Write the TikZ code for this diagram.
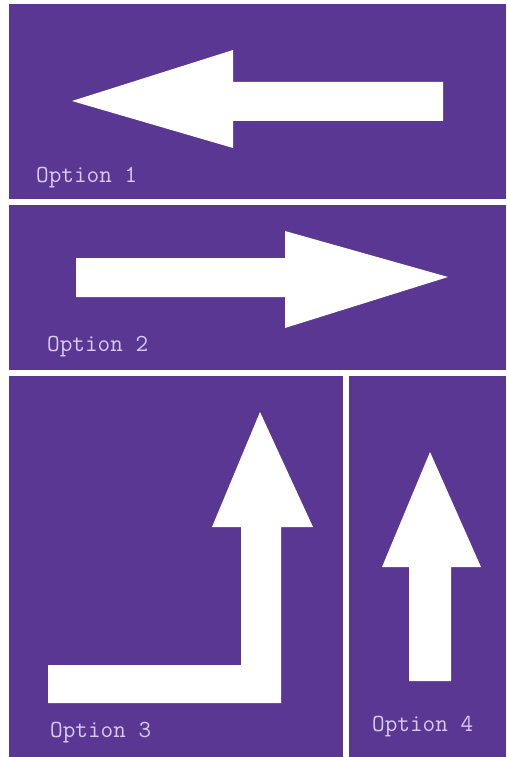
\documentclass[tikz,border=0pt]{standalone}
\usetikzlibrary{positioning}
\definecolor{panel}{HTML}{5A3792}
\definecolor{labeltext}{HTML}{D8CAF0}
\tikzset{
  optlabel/.style={font=\ttfamily\fontsize{24.5}{26}\selectfont,text=labeltext,anchor=base west,inner sep=0pt},
  arrowshape/.style={fill=white,draw=none}
}

\begin{document}
\begin{tikzpicture}[x=1pt,y=-1pt]
\useasboundingbox (0,0) rectangle (506,757);
\fill[white] (0,0) rectangle (506,757);
% panels
\fill[panel] (9,4) rectangle (506,199);
\fill[panel] (9,205) rectangle (506,370);
\fill[panel] (9,376) rectangle (343,757);
\fill[panel] (349,376) rectangle (506,757);

% option 1: left
\fill[arrowshape] (72,101) -- (233,50) -- (233,82) -- (443,82) -- (443,121) -- (233,121) -- (233,148) -- cycle;
\node[optlabel] (opt1) at (36,182) {Option 1};

% option 2: right
\fill[arrowshape] (448,277) -- (285,231) -- (285,258) -- (76,258) -- (76,297) -- (285,297) -- (285,328) -- cycle;
\node[optlabel] (opt2) at (47,351) {Option 2};

% option 3: turn
\fill[arrowshape] (260,412) -- (313,527) -- (281,527) -- (281,703) -- (48,703) -- (48,665) -- (241,665) -- (241,527) -- (212,527) -- cycle;
\node[optlabel] (opt3) at (50,737) {Option 3};

% option 4: up
\fill[arrowshape] (430,452) -- (481,567) -- (451,567) -- (451,681) -- (409,681) -- (409,567) -- (382,567) -- cycle;
\node[optlabel] (opt4) at (372,731) {Option 4};
\end{tikzpicture}
\end{document}
